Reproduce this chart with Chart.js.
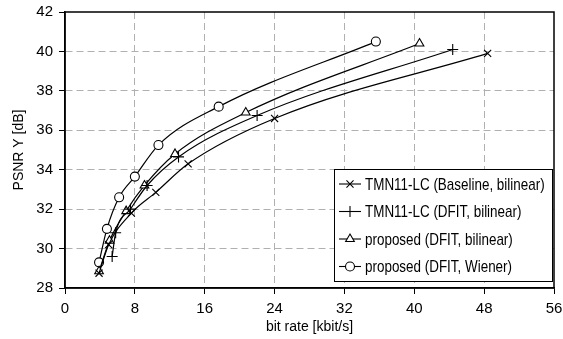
<!DOCTYPE html>
<html>
<head>
<meta charset="utf-8">
<script src="https://cdn.jsdelivr.net/npm/chart.js@4/dist/chart.umd.min.js"></script>
<style>
  html, body { margin: 0; padding: 0; background: #fff; }
  #wrap { width: 563px; height: 339px; position: relative; }
</style>
</head>
<body>
<div id="wrap"><canvas id="c" width="563" height="339"></canvas></div>
<script>
// ---- data ----
const seriesLabels = [
  'TMN11-LC (Baseline, bilinear)',
  'TMN11-LC (DFIT, bilinear)',
  'proposed (DFIT, bilinear)',
  'proposed (DFIT, Wiener)'
];
const baselineX = [3.9, 5.0, 7.6, 10.4, 14.1, 24.0, 48.4];
const baselineY = [28.75, 30.2, 31.8, 32.85, 34.3, 36.6, 39.9];
const dfitX = [5.4, 5.8, 7.5, 9.4, 13.0, 22.0, 44.4];
const dfitY = [29.6, 30.8, 32.0, 33.2, 34.65, 36.75, 40.1];
const propBilX = [3.9, 5.1, 7.0, 9.1, 12.6, 20.7, 40.6];
const propBilY = [28.85, 30.4, 31.9, 33.2, 34.8, 36.9, 40.4];
const propWienX = [3.9, 4.8, 6.2, 8.0, 10.7, 17.6, 35.6];
const propWienY = [29.3, 31.0, 32.6, 33.65, 35.25, 37.2, 40.5];
const xTicks = [0, 8, 16, 24, 32, 40, 48, 56];
const yTicks = [28, 30, 32, 34, 36, 38, 40, 42];
const xTitle = 'bit rate [kbit/s]';
const yTitle = 'PSNR Y [dB]';

const FONT = "'Liberation Sans', Arial, sans-serif";

function pts(xs, ys) { return xs.map((x, i) => ({ x: x, y: ys[i] })); }

const styles = [
  { pointStyle: 'crossRot', radius: 5 },
  { pointStyle: 'cross', radius: 5.5 },
  { pointStyle: 'triangle', radius: 5 },
  { pointStyle: 'circle', radius: 4.5 }
];
const seriesData = [
  pts(baselineX, baselineY),
  pts(dfitX, dfitY),
  pts(propBilX, propBilY),
  pts(propWienX, propWienY)
];

const datasets = seriesData.map((d, i) => ({
  label: seriesLabels[i],
  data: d,
  borderColor: '#000',
  backgroundColor: '#fff',
  borderWidth: 1.2,
  pointStyle: styles[i].pointStyle,
  pointRadius: styles[i].radius,
  pointHoverRadius: styles[i].radius,
  pointBorderColor: '#000',
  pointBackgroundColor: '#fff',
  pointBorderWidth: 1.1,
  cubicInterpolationMode: 'monotone',
  fill: false
}));

const frameAndLegend = {
  id: 'frameAndLegend',
  afterDatasetsDraw(chart) {
    const ctx = chart.ctx;
    const a = chart.chartArea;
    ctx.save();
    // frame
    ctx.strokeStyle = '#000';
    ctx.lineWidth = 1.5;
    ctx.strokeRect(a.left, a.top, a.right - a.left, a.bottom - a.top);
    // legend box
    const bw = 218, bh = 112;
    const bx = a.right - 2 - bw, by = a.bottom - 7 - bh;
    ctx.fillStyle = '#fff';
    ctx.fillRect(bx, by, bw, bh);
    ctx.lineWidth = 1;
    ctx.strokeRect(bx + 0.5, by + 0.5, bw, bh);
    ctx.textBaseline = 'middle';
    chart.data.datasets.forEach((ds, i) => {
      const y = by + 15 + i * 27.5;
      ctx.strokeStyle = '#000';
      ctx.lineWidth = 1.1;
      ctx.beginPath();
      ctx.moveTo(bx + 5, y);
      ctx.lineTo(bx + 27, y);
      ctx.stroke();
      ctx.fillStyle = '#fff';
      ctx.strokeStyle = '#000';
      Chart.helpers.drawPoint(ctx, { pointStyle: ds.pointStyle, radius: ds.pointRadius, borderWidth: 1.1, rotation: 0 }, bx + 16, y);
      ctx.save();
      ctx.translate(bx + 31, y + 1);
      ctx.scale(0.79, 1);
      ctx.font = '17px ' + FONT;
      ctx.fillStyle = '#000';
      ctx.fillText(ds.label, 0, 0);
      ctx.restore();
    });
    ctx.restore();
  }
};

const gridColor = (c) => {
  const v = c.tick ? c.tick.value : null;
  const s = c.scale;
  if (v === s.min || v === s.max) return 'rgba(0,0,0,0)';
  return '#b0b0b0';
};

new Chart(document.getElementById('c'), {
  type: 'line',
  data: { datasets: datasets },
  plugins: [frameAndLegend],
  options: {
    responsive: false,
    animation: false,
    events: [],
    layout: { padding: { top: 12, right: 9, left: 0, bottom: 0 } },
    plugins: { legend: { display: false }, tooltip: { enabled: false } },
    scales: {
      x: {
        type: 'linear',
        min: 0, max: 56,
        afterBuildTicks: (s) => { s.ticks = xTicks.map(v => ({ value: v })); },
        afterFit: (s) => { s.height = 51; s.paddingLeft = 0; s.paddingRight = 0; },
        ticks: { color: '#000', font: { family: FONT, size: 15 }, padding: 6, maxRotation: 0 },
        grid: { color: gridColor, lineWidth: 1, drawTicks: true, tickLength: 6, tickColor: '#000', tickWidth: 1 },
        border: { display: true, color: '#000', width: 1.5, dash: [7, 4] },
        title: { display: true, text: xTitle, color: '#000', font: { family: FONT, size: 14 }, padding: { top: 0, bottom: 3 } }
      },
      y: {
        type: 'linear',
        min: 28, max: 42,
        afterBuildTicks: (s) => { s.ticks = yTicks.map(v => ({ value: v })); },
        afterFit: (s) => { s.width = 65; s.paddingTop = 0; s.paddingBottom = 0; },
        ticks: { color: '#000', font: { family: FONT, size: 15 }, padding: 6 },
        grid: { color: gridColor, lineWidth: 1, drawTicks: true, tickLength: 6, tickColor: '#000', tickWidth: 1 },
        border: { display: true, color: '#000', width: 1.5, dash: [7, 4] },
        title: { display: true, text: yTitle, color: '#000', font: { family: FONT, size: 14 }, padding: { top: 11, bottom: 0 } }
      }
    }
  }
});
</script>
</body>
</html>
